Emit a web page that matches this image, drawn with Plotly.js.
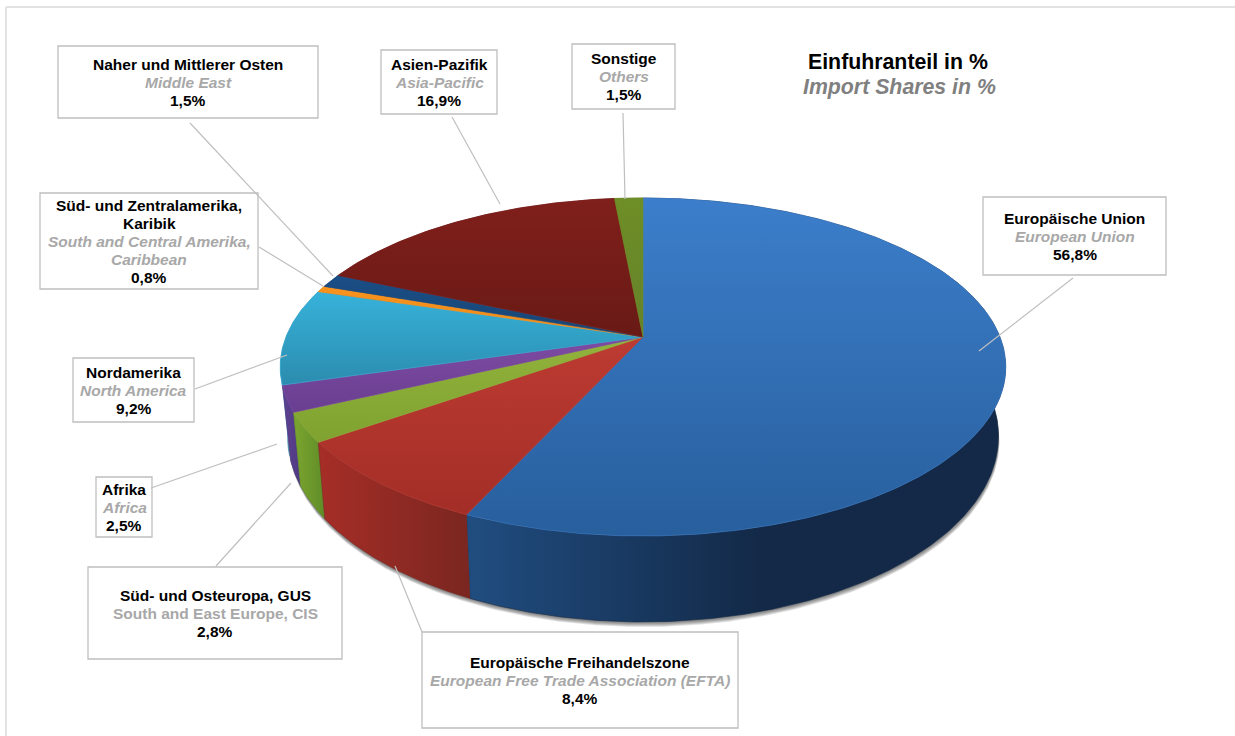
<!DOCTYPE html>
<html><head><meta charset="utf-8">
<script src="https://cdn.plot.ly/plotly-3.0.1.min.js"></script>
<style>html,body{margin:0;padding:0;background:#fff}</style></head>
<body><div id="chart" style="width:1235px;height:736px"></div>
<script>
// ---- data (clockwise from 12 o'clock) ----
const regionsDe = ["Europäische Union","Europäische Freihandelszone","Süd- und Osteuropa, GUS","Afrika","Nordamerika","Süd- und Zentralamerika,<br>Karibik","Naher und Mittlerer Osten","Asien-Pazifik","Sonstige"];
const regionsEn = ["European Union","European Free Trade Association (EFTA)","South and East Europe, CIS","Africa","North America","South and Central Amerika,<br>Caribbean","Middle East","Asia-Pacific","Others"];
// printed on the labels (they add up to 100.4)
const shares = [56.8,8.4,2.8,2.5,9.2,0.8,1.5,16.9,1.5];
// slice sizes as measured in the picture (they add up to 100)
const sliceSizes = [56.8,8.4,2.8,2.5,9.2,0.6,1.3,16.9,1.5];
const titleDe = "Einfuhranteil in %";
const titleEn = "Import Shares in %";

// ---- styling ----
const faceColors = [["#3c7ecb","#285f9d"],["#bd3b32","#a32e27"],["#92b33c","#7fa230"],["#7e4ca3","#693e90"],["#37b2da","#2b8cae"],["#f7931e","#f08a18"],["#1b4e86","#184674"],["#801f1b","#691a15"],["#6e8e27","#64822a"]];
const wallColors = [["#204d80","#132947"],["#a62e27","#7a2620"],["#7ca62f","#5f8c28"],["#5f418f","#4f3a85"],["#2b8cae","#2b8cae"],["#d97f18","#d97f18"],["#163c66","#163c66"],["#5a1512","#5a1512"],["#55701f","#55701f"]];
const boxes = [[983,197,1166,275],[422,632,738,728],[88,567,342,659],[96,477,152,537],[73,358,194,422],[40,193,258,289],[58,46,318,118],[381,50,497,114],[572,44,675,109]];
const leaders = [[1073,278,979,351],[395,566,422,632],[216,566,291,483],[151,488,277,444],[195,389,287,355],[259,247,323,286],[190,123,333,276],[452,117,500,204],[623,113,625,199]];
const italicEn = [true,true,false,true,true,true,true,true,true];
const GREY="#bfbfbf", SUB="#a8a8a8", FONT='"Liberation Sans", Arial, sans-serif', LINE_PITCH=18;

// ---- tilted disc projection (perspective view of a circular pie) ----
const AX=643, AY=337, R=357, A=163.7, K=0.1775;
function rimTop(t){const u=Math.sin(t),v=Math.cos(t),d=1+K*v;return [AX+R*u/d, AY-A*v/d];}
function rimBot(t,g=0){const p=rimTop(t);return [AX+0.98*(p[0]-AX)+g*0.2, AY+1.1*(p[1]-AY)+66+g];}
const total = sliceSizes.reduce((a,b)=>a+b,0);
let acc=0; const spans=sliceSizes.map(s=>{const a=acc/total*2*Math.PI;acc+=s;return [a,acc/total*2*Math.PI];});
function arc(f,a,b){const n=Math.max(4,Math.ceil((b-a)/0.01)),o=[];for(let i=0;i<=n;i++)o.push(f(a+(b-a)*i/n));return o;}

const traces=[];
function poly(pts,c,lw){
  return {x:pts.map(p=>p[0]),y:pts.map(p=>p[1]),mode:"lines",fill:"toself",hoverinfo:"skip",showlegend:false,line:{width:lw===undefined?0.6:lw,color:c}};
}
// soft shadow below the rim
[5,4,3,2,1].forEach(g=>{const t=poly(arc(x=>rimBot(x,g),0,2*Math.PI),"rgba(50,50,50,0.16)",0);t.fillcolor="rgba(50,50,50,0.16)";traces.push(t);});
// walls, back to front
const order=sliceSizes.map((_,i)=>i).sort((a,b)=>Math.cos((spans[b][0]+spans[b][1])/2)-Math.cos((spans[a][0]+spans[a][1])/2));
order.forEach(i=>{
  const [a,b]=spans[i];
  const pts=arc(rimTop,a,b).concat(arc(rimBot,a,b).reverse());
  const t=poly(pts,wallColors[i][1]);
  t.fillgradient=i===0
    ? {type:"horizontal",colorscale:[[0,wallColors[0][0]],[0.55,wallColors[0][1]],[1,wallColors[0][1]]]}
    : {type:"horizontal",colorscale:[[0,wallColors[i][0]],[1,wallColors[i][1]]]};
  traces.push(t);
});
// top face
sliceSizes.forEach((_,i)=>{
  const [a,b]=spans[i];
  const pts=[[AX,AY]].concat(arc(rimTop,a,b));pts.push([AX,AY]);
  const t=poly(pts,faceColors[i][0]);
  t.fillgradient={type:"vertical",colorscale:[[0,faceColors[i][1]],[1,faceColors[i][0]]]};
  traces.push(t);
});

const shapes=[];
const line=(x0,y0,x1,y1,c,w)=>({type:"line",xref:"x",yref:"y",x0,y0,x1,y1,line:{color:c,width:w||1},layer:"above"});
shapes.push(line(6,7,1235,7,"#e2e2e2",2),line(6,7,6,736,"#e2e2e2",2));
boxes.forEach(b=>shapes.push({type:"rect",xref:"x",yref:"y",x0:b[0],y0:b[1],x1:b[2],y1:b[3],line:{color:GREY,width:1.3},fillcolor:"#fff",layer:"above"}));
leaders.forEach(l=>shapes.push(line(l[0],l[1],l[2],l[3],GREY,1.2)));

const fmt=v=>v.toFixed(1).replace(".",",")+"%";
const annotations=[];
function textLine(x,y,text,size,color){
  annotations.push({xref:"x",yref:"y",x,y,showarrow:false,align:"center",xanchor:"center",yanchor:"middle",text,font:{family:FONT,size,color}});
}
regionsDe.forEach((n,i)=>{
  const rows=[];
  n.split("<br>").forEach(s=>rows.push(["<b>"+s+"</b>","#000"]));
  regionsEn[i].split("<br>").forEach(s=>rows.push([italicEn[i]?"<b><i>"+s+"</i></b>":"<b>"+s+"</b>",SUB]));
  rows.push(["<b>"+fmt(shares[i])+"</b>","#000"]);
  const cy=(boxes[i][1]+boxes[i][3])/2, cx=(boxes[i][0]+boxes[i][2])/2;
  rows.forEach((r,j)=>textLine(cx,cy+(j-(rows.length-1)/2)*LINE_PITCH,r[0],15.5,r[1]));
});
textLine(898,62,"<b>"+titleDe+"</b>",21.3,"#000");
textLine(899,87,"<b><i>"+titleEn+"</i></b>",21.3,"#808080");

Plotly.newPlot("chart",traces,{
  width:1235,height:736,margin:{l:0,r:0,t:0,b:0},paper_bgcolor:"#fff",plot_bgcolor:"#fff",showlegend:false,hovermode:false,
  xaxis:{range:[0,1235],visible:false,fixedrange:true},
  yaxis:{range:[736,0],visible:false,fixedrange:true},
  shapes,annotations
},{displayModeBar:false,staticPlot:true});
</script></body></html>
